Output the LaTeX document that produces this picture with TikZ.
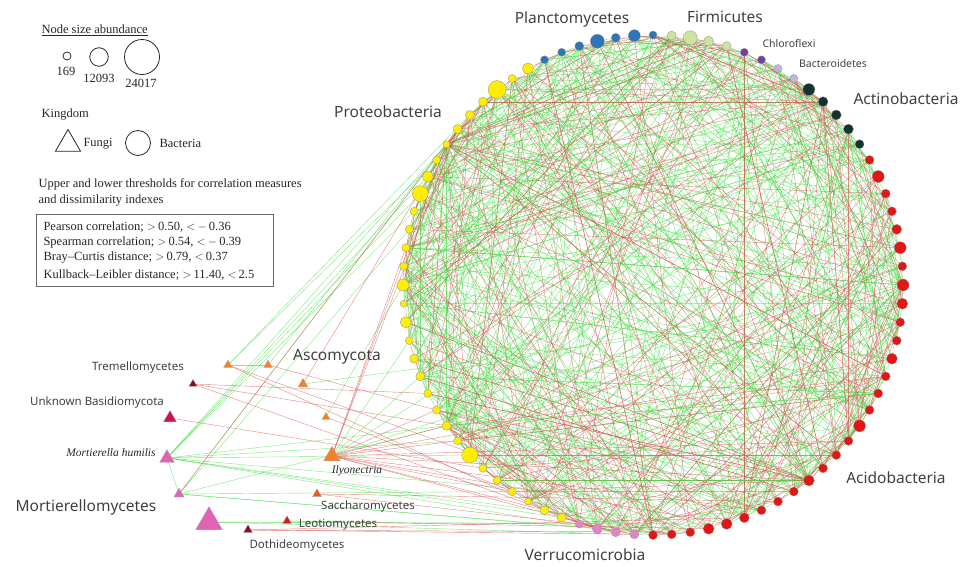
\documentclass[tikz,border=0pt]{standalone}
\usepackage{fontspec}
\setmainfont{Liberation Serif}
\newfontfamily\lblfont{Noto Sans}
\usetikzlibrary{shapes.geometric,backgrounds}
\definecolor{cblue}{RGB}{46,117,182}
\definecolor{cfirm}{RGB}{205,228,160}
\definecolor{cpurp}{RGB}{112,64,160}
\definecolor{clav}{RGB}{185,185,220}
\definecolor{cdark}{RGB}{18,52,46}
\definecolor{cred}{RGB}{226,22,22}
\definecolor{cpink}{RGB}{232,130,200}
\definecolor{cyel}{RGB}{255,238,0}
\definecolor{egreen}{RGB}{80,222,80}
\definecolor{ered}{RGB}{218,75,75}
\definecolor{forange}{RGB}{240,130,40}
\definecolor{fmaroon}{RGB}{140,10,40}
\definecolor{fcrimson}{RGB}{200,20,80}
\definecolor{fpink}{RGB}{225,100,180}
\definecolor{fred}{RGB}{220,25,25}
\definecolor{fsacch}{RGB}{230,90,30}
\definecolor{txt}{RGB}{64,64,64}
\begin{document}
\begin{tikzpicture}[x=1pt,y=-1pt,
  bact/.style={circle,inner sep=0pt,draw=black!45,line width=0.3pt},
  fung/.style={regular polygon,regular polygon sides=3,inner sep=0pt,draw=black!30,line width=0.3pt},
  gedge/.style={draw=egreen,line width=0.42pt,opacity=0.7},
  redge/.style={draw=ered,line width=0.42pt,opacity=0.65},
  biglbl/.style={font=\lblfont\fontsize{15.5}{18}\selectfont,text=txt},
  smalllbl/.style={font=\lblfont\fontsize{10.5}{12}\selectfont,text=txt},
  funlbl/.style={font=\lblfont\fontsize{11.5}{13}\selectfont,text=txt},
  itlbl/.style={font=\itshape\fontsize{11.5}{13}\selectfont,text=black!85},
  legtxt/.style={font=\fontsize{12.5}{14}\selectfont,text=black!85},
  legshape/.style={draw=black!85,line width=0.8pt,inner sep=0pt}
]
\useasboundingbox (0,0) rectangle (967,567);

% bacteria ring
\foreach \i/\c/\d in {0/cblue/8,1/cfirm/9,2/cfirm/14,3/cfirm/10,4/cfirm/9,5/cpurp/8,6/cpurp/8,7/clav/8,8/clav/8,
 9/cdark/12,10/cdark/10,11/cdark/10,12/cdark/10,13/cdark/9,
 14/cred/9,15/cred/12,16/cred/9,17/cred/9,18/cred/10,19/cred/12,20/cred/9,21/cred/12,22/cred/11,23/cred/9,24/cred/9,
 25/cred/11,26/cred/9,27/cred/9,28/cred/9,29/cred/12,30/cred/9,31/cred/9,32/cred/9,33/cred/11,34/cred/9,35/cred/9,
 36/cred/9,37/cred/10,38/cred/11,39/cred/11,40/cred/9,41/cred/9,42/cred/9,
 43/cpink/9,44/cpink/9,45/cpink/10,46/cpink/8,
 47/cyel/9,48/cyel/9,49/cyel/7,50/cyel/8,51/cyel/8,52/cyel/8,53/cyel/16,54/cyel/8,55/cyel/9,56/cyel/8,57/cyel/8,
 58/cyel/9,59/cyel/9,60/cyel/8,61/cyel/11,62/cyel/7,63/cyel/12,64/cyel/8,65/cyel/8,66/cyel/8,67/cyel/8,68/cyel/16,
 69/cyel/11,70/cyel/8,71/cyel/7,72/cyel/9,73/cyel/9,74/cyel/9,75/cyel/18,76/cyel/8,77/cyel/11,
 78/cblue/8,79/cblue/8,80/cblue/9,81/cblue/14,82/cblue/9,83/cblue/12}{
  \pgfmathsetmacro\ang{90-\i*4.285714}
  \pgfmathsetmacro\px{653+250*cos(\ang)}
  \pgfmathsetmacro\py{285-250*sin(\ang)}
  \node[bact,fill=\c,minimum size=\d] (b\i) at (\px,\py) {};
}

% fungi
\node[fung,fill=forange,minimum size=10] (ftra) at (228,365) {};
\node[fung,fill=forange,minimum size=10] (ftrb) at (268,365) {};
\node[fung,fill=forange,minimum size=11.5] (ftrc) at (303,384) {};
\node[fung,fill=forange,minimum size=9.5] (ftrd) at (326,417) {};
\node[fung,fill=forange,minimum size=19.5] (ily) at (332,456) {};
\node[fung,fill=fmaroon,minimum size=9.5] (fdr) at (193,384) {};
\node[fung,fill=fcrimson,minimum size=15] (fub) at (170,418) {};
\node[fung,fill=fpink,minimum size=17] (fmh) at (167,458) {};
\node[fung,fill=fpink,minimum size=12] (fmp) at (179,494) {};
\node[fung,fill=fpink,minimum size=31] (fmb) at (209,522) {};
\node[fung,fill=fsacch,minimum size=10.5] (fsa) at (317,494) {};
\node[fung,fill=fred,minimum size=10.5] (fle) at (287,521) {};
\node[fung,fill=fmaroon,minimum size=10.5] (fdo) at (248,530) {};

\begin{pgfonlayer}{background}
\pgfmathsetseed{42}
\foreach \k in {1,...,370}{
  \pgfmathrandominteger{\a}{0}{83}
  \pgfmathrandominteger{\b}{0}{83}
  \draw[gedge] (b\a) -- (b\b);
}
\foreach \k in {1,...,175}{
  \pgfmathrandominteger{\a}{0}{83}
  \pgfmathrandominteger{\b}{0}{83}
  \draw[redge] (b\a) -- (b\b);
}
% hubs
\foreach \h/\ng/\nr in {71/22/12,55/16/10,33/8/14,10/3/12,8/6/9,4/4/10,21/10/4,63/10/3,29/6/6}{
  \foreach \k in {1,...,\ng}{\pgfmathrandominteger{\b}{0}{83}\draw[gedge] (b\h) -- (b\b);}
  \foreach \k in {1,...,\nr}{\pgfmathrandominteger{\b}{0}{83}\draw[redge] (b\h) -- (b\b);}
}
% fungal edges
\foreach \t in {71,69,68,67,55,54,53,47,44,40,36}{\draw[gedge] (fmh) -- (b\t);}
\draw[gedge] (fmh) -- (fmp);
\foreach \t in {71,66,55,50,45,41}{\draw[gedge] (fmp) -- (b\t);}
\draw[redge] (fmp) -- (b72);
\foreach \t in {42,38,46}{\draw[gedge] (fmb) -- (b\t);}
\foreach \t in {40,37,43}{\draw[redge] (fdo) -- (b\t);}
\draw[redge] (fle) -- (b39);
\foreach \t in {41,35}{\draw[redge] (fsa) -- (b\t);}
\foreach \t in {71,72,65,56,55,54,50,48,30,33,25,36,38,44}{\draw[redge] (ily) -- (b\t);}
\foreach \t in {58,60,12,20}{\draw[gedge] (ily) -- (b\t);}
\draw[redge] (ftrd) -- (b50);
\draw[gedge] (ftrd) -- (b63);
\draw[gedge] (ftrc) -- (b22);
\draw[redge] (ftrc) -- (b72);
\foreach \t in {47,40}{\draw[redge] (ftra) -- (b\t);}
\foreach \t in {70,73}{\draw[gedge] (ftra) -- (b\t);}
\draw[gedge] (ftra) -- (ftrb);
\draw[redge] (ftrb) -- (b35);
\draw[gedge] (ftrb) -- (b71);
\foreach \t in {55,57,45}{\draw[redge] (fdr) -- (b\t);}
\draw[redge] (fub) -- (b52);
\end{pgfonlayer}

% phylum labels
\node[biglbl] (lplanc) at (572,19) {Planctomycetes};
\node[biglbl] (lfirm) at (725,17) {Firmicutes};
\node[smalllbl] (lchlo) at (789,44) {Chloroflexi};
\node[smalllbl] (lbact) at (833,64) {Bacteroidetes};
\node[biglbl] (lacti) at (906,99) {Actinobacteria};
\node[biglbl] (lprot) at (388,112) {Proteobacteria};
\node[biglbl] (lasco) at (337,357) {Ascomycota};
\node[biglbl] (lacid) at (896,478) {Acidobacteria};
\node[biglbl] (lverr) at (585,555) {Verrucomicrobia};
\node[biglbl] (lmort) at (86,507) {Mortierellomycetes};
\node[funlbl] (ltrem) at (138,368) {Tremellomycetes};
\node[funlbl] (lunk) at (97,403) {Unknown Basidiomycota};
\node[itlbl] (lmh) at (111,453) {Mortierella humilis};
\node[itlbl] (lily) at (357,471) {Ilyonectria};
\node[funlbl] (lsac) at (368,507) {Saccharomycetes};
\node[funlbl] (lleo) at (338,525) {Leotiomycetes};
\node[funlbl] (ldot) at (297,546) {Dothideomycetes};

% legend
\node[legtxt,anchor=west] (lgtitle) at (38,30) {\underline{Node size abundance}};
\node[legshape,circle,minimum size=8] (lc1) at (67,56) {};
\node[legshape,circle,minimum size=18.5] (lc2) at (99,57) {};
\node[legshape,circle,minimum size=35] (lc3) at (142,57) {};
\node[legtxt] (lt1) at (66,71) {169};
\node[legtxt] (lt2) at (99,78) {12093};
\node[legtxt] (lt3) at (141,83) {24017};
\node[legtxt,anchor=west] (lking) at (38,115) {Kingdom};
\node[legshape,regular polygon,regular polygon sides=3,minimum size=29] (ltri) at (68,144) {};
\node[legtxt,anchor=west] (lfungi) at (80,144) {Fungi};
\node[legshape,circle,minimum size=25] (lcirc) at (138,143) {};
\node[legtxt,anchor=west] (lbacteria) at (156,143) {Bacteria};
\node[legtxt,anchor=west] (lth1) at (35,184) {Upper and lower thresholds for correlation measures};
\node[legtxt,anchor=west] (lth2) at (35,201) {and dissimilarity indexes};
\draw[draw=black!60,line width=0.8pt] (36,214) rectangle (273,286);
\node[legtxt,anchor=west] (lp1) at (40,227) {Pearson correlation; $>$\,0.50, $<$\,$-$\,0.36};
\node[legtxt,anchor=west] (lp2) at (40,242) {Spearman correlation; $>$\,0.54, $<$\,$-$\,0.39};
\node[legtxt,anchor=west] (lp3) at (40,258) {Bray--Curtis distance; $>$\,0.79, $<$\,0.37};
\node[legtxt,anchor=west] (lp4) at (40,275) {Kullback--Leibler distance; $>$\,11.40, $<$\,2.5};
\end{tikzpicture}
\end{document}
